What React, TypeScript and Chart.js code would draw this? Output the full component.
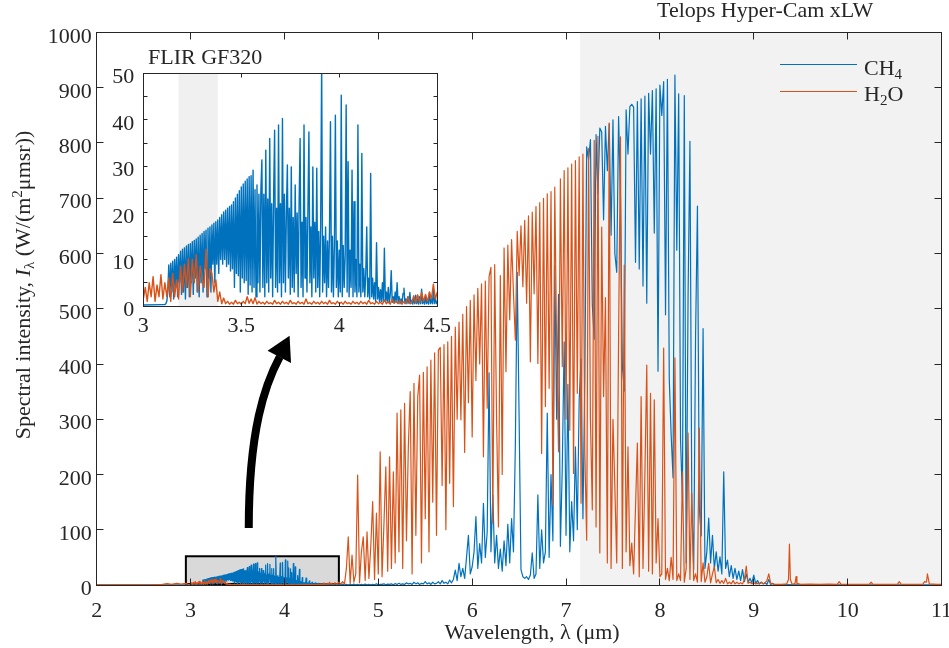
import React, { useEffect, useRef } from "react";
import { Chart, registerables } from "chart.js";
Chart.register(...registerables);

const CH4_COLOR = "#0072BD";
const H2O_COLOR = "#D95319";
const AXIS_COLOR = "#262626";
const SERIF = '"Liberation Serif", "Times New Roman", serif';
const FS = 22;

// ---------- axis ticks ----------
const mainXTicks = [2, 3, 4, 5, 6, 7, 8, 9, 10, 11];
const mainYTicks = [0, 100, 200, 300, 400, 500, 600, 700, 800, 900, 1000];
const insetXTicks = [3, 3.5, 4, 4.5];
const insetYTicks = [0, 5, 10, 15, 20, 25, 30, 35, 40, 45, 50];
const insetYLabels = [0, 10, 20, 30, 40, 50];

// ---------- annotations (data coordinates) ----------
const hyperCamBand = [7.15, 11];
const flirBand = [3.18, 3.38];
const zoomBox = [2.95, 4.58, 0, 52];

// ---------- H2O spectrum ----------
const h2oPreX = [2.0, 2.6, 2.7, 2.75, 2.8, 2.85, 2.9, 2.95, 2.98];
const h2oPreY = [0.3, 0.3, 1, 2.5, 1, 3, 1.5, 3, 1];
const h2oFineStart = 3.0;
const h2oFineStep = 0.01;
const h2oFineVals = [
  1.5, 4, 1, 5, 2, 6.3, 1, 4.5, 2, 6.7,
  1.5, 5, 2, 6, 1, 7, 2, 5.6, 1.5, 8.6,
  3, 9, 4, 10.2, 2, 10, 5, 11, 3, 8.6,
  6, 4, 12.2, 2, 8, 7, 3, 5.6, 1, 3,
  0.5, 1.7, 0.5, 1, 0.4, 0.8, 0.4, 1.2, 0.5, 0.8,
  0.4, 1, 0.5, 2, 0.6, 1.5, 0.5, 1.8, 0.4, 1,
  0.5, 0.8, 0.4, 1, 0.5, 0.7, 0.4, 1.2, 0.5, 0.8,
  0.4, 1, 0.5, 0.8, 0.4, 1.2, 0.5, 0.7, 0.4, 1,
  0.5, 0.8, 0.4, 1.5, 0.5, 0.7, 0.4, 1, 0.5, 0.8,
  0.4, 1, 0.5, 0.8, 0.4, 1.2, 0.5, 0.7, 0.4, 1,
  0.5, 0.8, 0.4, 1, 0.5, 0.7, 0.4, 1, 0.5, 0.8,
  0.4, 1, 0.5, 0.8, 0.4, 1.2, 0.5, 0.7, 0.4, 1,
  0.5, 0.8, 0.4, 1.3, 0.5, 0.9, 0.4, 1.5, 0.6, 1,
  0.5, 1.2, 0.4, 1, 0.6, 2, 0.5, 0.8, 2.2, 0.7,
  2.4, 0.8, 2.9, 1, 2.5, 1, 3, 1.5, 4.7, 1.5,
  3,
];
const coarseStart = 4.52;
const coarseStep = 0.02;
const h2oCoarseVals = [
  1, 4, 1, 5, 2, 6, 2, 30, 87, 3,
  54, 5, 20, 199, 4, 60, 87, 8, 96, 12,
  70, 151, 10, 130, 20, 241, 15, 110, 214, 25,
  232, 30, 205, 40, 311, 60, 317, 30, 329, 80,
  250, 350, 20, 365, 90, 340, 380, 40, 385, 120,
  395, 60, 407, 150, 420, 90, 425, 430, 180, 435,
  100, 440, 184, 450, 142, 467, 300, 476, 299, 490,
  240, 504, 330, 515, 268, 525, 370, 537, 400, 545,
  232, 550, 320, 558, 575, 112, 580, 300, 105, 560,
  200, 610, 386, 615, 480, 625, 528, 443, 640, 560,
  650, 540, 660, 510, 668, 404, 675, 527, 685, 401,
  692, 238, 700, 323, 708, 356, 712, 145, 720, 431,
  241, 735, 395, 750, 300, 755, 280, 762, 202, 768,
  347, 775, 148, 780, 240, 81, 790, 300, 136, 805,
  105, 812, 58, 648, 341, 520, 40, 836, 30, 300,
  178, 40, 450, 811, 30, 579, 60, 250, 35, 76,
  20, 140, 257, 15, 341, 30, 200, 398, 25, 347,
  20, 335, 40, 120, 15, 20, 429, 10, 30, 8,
  50, 10, 411, 8, 20, 8, 205, 5, 30, 275,
  10, 166, 8, 20, 5, 284, 6, 40, 5, 15,
  39, 4, 20, 33, 4, 10, 3, 8, 3, 12,
  2, 5, 2, 8, 2, 5, 2, 4, 2, 10,
  34, 3, 5, 2, 4, 2, 3, 2, 5, 2,
  4, 8, 20, 3, 2, 1,
];
const h2oTailX = [9.24, 9.3, 9.35, 9.37, 9.38, 9.39, 9.41, 9.44, 9.45, 9.46, 9.5, 9.6, 9.7, 9.8, 9.89, 9.91, 9.93, 10.1, 10.23, 10.25, 10.27, 10.4, 10.53, 10.55, 10.57, 10.7, 10.8, 10.82, 10.84, 10.85, 10.87, 10.95, 11.0];
const h2oTailY = [1, 1, 2, 10, 74, 10, 1, 3, 15, 3, 1, 1.5, 1, 1.5, 1, 6, 1, 1, 1, 5, 1, 1, 1, 6, 1, 1, 1, 6, 5, 20, 2, 1, 1];

// ---------- CH4 spectrum ----------
const ch4PreX = [2.0, 3.0, 3.095];
const ch4PreY = [0.2, 0.2, 0.3];
const ch4FineStart = 3.1;
const ch4FineStep = 0.005;
const ch4FineVals = [
  0.3, 0.3, 0.3, 0.5, 1, 3, 8.8, 2, 9.2, 3, 9.6, 1.5, 10, 4, 10.5, 2, 11, 5, 11.8, 2.5,
  12.2, 3, 12.5, 1.5, 12.9, 4, 13.2, 2, 13.4, 5, 13.8, 2.5, 14.1, 6, 14.4, 3, 14.8, 2, 15.2, 5,
  15.6, 3, 16, 8, 16.3, 2, 16.7, 6, 17, 3, 17.4, 9, 17.8, 5, 18.1, 9, 18.5, 7, 19, 10,
  19.6, 9, 20.2, 10, 20.6, 8.5, 21, 9, 21.4, 7.5, 21.7, 8, 22.4, 4, 23.2, 7, 24, 6.5, 24.8, 3,
  25.6, 6, 26.2, 5, 26.8, 5.5, 27.3, 2.5, 27.8, 4.5, 28, 3, 29.2, 4, 25, 2, 26, 5, 24, 3,
  25, 31.4, 4, 24, 2, 33.5, 5, 23, 3, 36, 6, 22, 2, 24, 37.8, 4, 21, 3, 38.9, 5,
  22, 2, 40.3, 5, 24, 3, 20, 30.3, 6, 21, 2.5, 29.9, 4, 19, 3, 26, 7, 20, 2, 22,
  36, 4, 18, 2, 38.9, 6, 19, 3, 21, 37.4, 5, 17, 2, 29.9, 6, 18, 3, 29.6, 4, 16,
  2, 18, 52, 3, 15, 5, 17, 2, 14, 4, 16, 39.6, 3, 15, 2, 13, 41, 4, 14, 2,
  12, 3, 45.3, 2, 13, 4, 11, 43.2, 3, 31, 2, 12, 4, 29.2, 2, 22.4, 3, 10, 2, 38.9,
  3, 9, 2, 32.8, 3, 8, 2, 7, 17, 2, 6, 1.5, 28.5, 2, 6, 1.5, 5, 1, 13.6, 1.5,
  4, 1, 3.5, 1, 5, 0.8, 12.4, 1, 3, 0.8, 4, 0.6, 2.5, 7.6, 0.8, 2, 0.6, 3, 0.8, 5,
  0.6, 2, 0.5, 1.5, 0.5, 2.7, 3.8, 0.5, 1.5, 0.5, 2, 0.6, 2.9, 0.5, 1.2, 0.4, 1.8, 0.5, 2.3, 0.5,
  1.5, 0.4, 2, 0.5, 3.6, 0.5, 1.5, 0.4, 2.2, 0.5, 1.3, 0.4, 2.9, 0.5, 1.5, 0.5, 3.4, 0.5, 1.8, 0.5,
  1,
];
const ch4CoarseVals = [
  0.5, 1, 0.5, 1, 0.5, 1.5, 0.5, 1, 0.5, 1,
  0.5, 1.5, 0.5, 1, 0.5, 1, 0.5, 1.5, 0.5, 1,
  0.5, 1, 0.5, 2, 0.5, 1, 1, 2, 0.5, 1.5,
  1, 2, 0.5, 2.5, 1, 3, 1, 2, 1, 4,
  2, 3, 1, 5, 2, 4, 1, 3, 2, 6,
  2, 4, 1, 5, 2, 3, 6, 2, 8, 3,
  5, 2, 9, 4, 10, 27, 8, 39, 15, 30,
  12, 50, 90, 20, 33, 60, 124, 30, 75, 40,
  148, 50, 96, 384, 60, 163, 40, 90, 30, 65,
  25, 80, 35, 110, 40, 120, 60, 252, 566, 304,
  28, 15, 12, 15, 10, 18, 58, 12, 20, 163,
  30, 100, 40, 60, 311, 50, 200, 80, 578, 300,
  526, 70, 212, 440, 90, 363, 60, 151, 80, 250,
  100, 335, 409, 120, 367, 793, 770, 806, 507, 445,
  815, 708, 827, 820, 661, 830, 750, 835, 633, 842,
  600, 566, 848, 700, 397, 351, 860, 780, 866, 870,
  865, 584, 875, 572, 880, 541, 885, 510, 890, 780,
  895, 637, 898, 387, 905, 850, 911, 489, 915, 372,
  271, 194, 923, 606, 889, 261, 157, 886, 40, 520,
  803, 145, 28, 452, 686, 140, 89, 464, 30, 60,
  121, 40, 90, 30, 60, 25, 51, 20, 205, 30,
  45, 15, 35, 12, 30, 10, 25, 8, 28, 6,
  20, 5, 12, 4, 18, 3, 8, 2, 5, 2,
  4, 1, 10, 1, 3, 0.5,
];
const ch4TailX = [9.3, 9.5, 10, 11];
const ch4TailY = [0.5, 0.3, 0.3, 0.3];

// arrow annotation in data coordinates of the main axes
const arrowTail = [3.62, 103];
const arrowC1 = [3.62, 281];
const arrowC2 = [3.795, 364];
const arrowEnd = [3.95, 413];
const arrowTip = [4.055, 451];
const arrowBarbL = [3.82, 424];
const arrowBarbR = [4.07, 402];

type Pt = { x: number; y: number };
function gridPts(start: number, step: number, vals: number[]): Pt[] {
  return vals.map((v, i) => ({ x: +(start + i * step).toFixed(4), y: v }));
}
function pairPts(xs: number[], ys: number[]): Pt[] {
  return xs.map((x, i) => ({ x, y: ys[i] }));
}

const h2oPoints: Pt[] = [
  ...pairPts(h2oPreX, h2oPreY),
  ...gridPts(h2oFineStart, h2oFineStep, h2oFineVals),
  ...gridPts(coarseStart, coarseStep, h2oCoarseVals),
  ...pairPts(h2oTailX, h2oTailY),
];
const ch4Points: Pt[] = [
  ...pairPts(ch4PreX, ch4PreY),
  ...gridPts(ch4FineStart, ch4FineStep, ch4FineVals),
  ...gridPts(coarseStart, coarseStep, ch4CoarseVals),
  ...pairPts(ch4TailX, ch4TailY),
];

type Seg = { t: string; k?: "i" | "sub" | "sup" };
function segFont(s: Seg, size: number) {
  const fs = s.k === "sub" || s.k === "sup" ? Math.round(size * 0.7) : size;
  return `${s.k === "i" ? "italic " : ""}${fs}px ${SERIF}`;
}
function richWidth(ctx: CanvasRenderingContext2D, segs: Seg[], size: number) {
  let w = 0;
  for (const s of segs) {
    ctx.font = segFont(s, size);
    w += ctx.measureText(s.t).width;
  }
  return w;
}
function drawRich(ctx: CanvasRenderingContext2D, segs: Seg[], x: number, y: number, size: number) {
  let cx = x;
  for (const s of segs) {
    ctx.font = segFont(s, size);
    const dy = s.k === "sub" ? size * 0.2 : s.k === "sup" ? -size * 0.38 : 0;
    ctx.fillText(s.t, cx, y + dy);
    cx += ctx.measureText(s.t).width;
  }
}

const snap = (v: number) => Math.floor(v) + 0.5;

function drawFrame(
  chart: any,
  cfg: {
    xTicks: number[];
    yTicks: number[];
    xLabels: number[];
    yLabels: number[];
    tickLen: number;
    xLabelDy: number;
    yLabelGap: number;
  }
) {
  const { ctx, chartArea: a } = chart;
  const xs = chart.scales.x;
  const ys = chart.scales.y;
  const L = snap(a.left), R = snap(a.right), T = snap(a.top), B = snap(a.bottom);
  ctx.save();
  ctx.strokeStyle = AXIS_COLOR;
  ctx.lineWidth = 1;
  ctx.beginPath();
  for (const v of cfg.xTicks) {
    const px = snap(xs.getPixelForValue(v));
    ctx.moveTo(px, B);
    ctx.lineTo(px, B - cfg.tickLen);
    ctx.moveTo(px, T);
    ctx.lineTo(px, T + cfg.tickLen);
  }
  for (const v of cfg.yTicks) {
    const py = snap(ys.getPixelForValue(v));
    ctx.moveTo(L, py);
    ctx.lineTo(L + cfg.tickLen, py);
    ctx.moveTo(R, py);
    ctx.lineTo(R - cfg.tickLen, py);
  }
  ctx.stroke();
  ctx.strokeRect(L, T, R - L, B - T);
  ctx.fillStyle = AXIS_COLOR;
  ctx.font = `${FS}px ${SERIF}`;
  ctx.textBaseline = "alphabetic";
  ctx.textAlign = "center";
  for (const v of cfg.xLabels) ctx.fillText(String(v), xs.getPixelForValue(v), a.bottom + cfg.xLabelDy);
  ctx.textAlign = "right";
  for (const v of cfg.yLabels) ctx.fillText(String(v), a.left - cfg.yLabelGap, ys.getPixelForValue(v) + 10);
  ctx.restore();
}

const mainPlugin = {
  id: "mainDecor",
  beforeDatasetsDraw(chart: any) {
    const { ctx, chartArea: a } = chart;
    const xs = chart.scales.x;
    const ys = chart.scales.y;
    ctx.save();
    const b0 = xs.getPixelForValue(hyperCamBand[0]);
    const b1 = xs.getPixelForValue(hyperCamBand[1]);
    ctx.fillStyle = "#f2f2f2";
    ctx.fillRect(b0, a.top, b1 - b0, a.bottom - a.top);
    const rx0 = xs.getPixelForValue(zoomBox[0]);
    const rx1 = xs.getPixelForValue(zoomBox[1]);
    const ry0 = ys.getPixelForValue(zoomBox[2]);
    const ry1 = ys.getPixelForValue(zoomBox[3]);
    ctx.fillStyle = "#d9d9d9";
    ctx.fillRect(rx0, ry1, rx1 - rx0, ry0 - ry1);
    ctx.strokeStyle = "#000";
    ctx.lineWidth = 2;
    ctx.strokeRect(rx0, ry1, rx1 - rx0, ry0 - ry1 - 1);
    ctx.restore();
  },
  afterDraw(chart: any) {
    const { ctx } = chart;
    const xs = chart.scales.x;
    const ys = chart.scales.y;
    drawFrame(chart, {
      xTicks: mainXTicks,
      yTicks: mainYTicks,
      xLabels: mainXTicks,
      yLabels: mainYTicks,
      tickLen: 7,
      xLabelDy: 32,
      yLabelGap: 5,
    });
    ctx.save();
    ctx.fillStyle = AXIS_COLOR;
    ctx.textBaseline = "alphabetic";
    ctx.textAlign = "left";
    // top annotation
    ctx.font = `${FS}px ${SERIF}`;
    ctx.fillText("Telops Hyper-Cam xLW", 657, 17);
    // x title
    const xt: Seg[] = [{ t: "Wavelength, λ (μm)" }];
    const xw = richWidth(ctx, xt, FS);
    drawRich(ctx, xt, 532 - xw / 2, 639, FS);
    // y title
    const yt: Seg[] = [
      { t: "Spectral intensity, " },
      { t: "I", k: "i" },
      { t: "λ", k: "sub" },
      { t: " (W/(m" },
      { t: "2", k: "sup" },
      { t: "μmsr))" },
    ];
    const yw = richWidth(ctx, yt, FS);
    ctx.save();
    ctx.translate(30, 285);
    ctx.rotate(-Math.PI / 2);
    drawRich(ctx, yt, -yw / 2, 0, FS);
    ctx.restore();
    // legend
    ctx.lineWidth = 1;
    ctx.strokeStyle = CH4_COLOR;
    ctx.beginPath();
    ctx.moveTo(780, 64.5);
    ctx.lineTo(857, 64.5);
    ctx.stroke();
    ctx.strokeStyle = H2O_COLOR;
    ctx.beginPath();
    ctx.moveTo(780, 91.5);
    ctx.lineTo(857, 91.5);
    ctx.stroke();
    drawRich(ctx, [{ t: "CH" }, { t: "4", k: "sub" }], 864, 75, FS);
    drawRich(ctx, [{ t: "H" }, { t: "2", k: "sub" }, { t: "O" }], 864, 100.5, FS);
    // arrow
    const P = (p: number[]) => [xs.getPixelForValue(p[0]), ys.getPixelForValue(p[1])];
    const t0 = P(arrowTail), c1 = P(arrowC1), c2 = P(arrowC2), e = P(arrowEnd);
    const tip = P(arrowTip), bl = P(arrowBarbL), br = P(arrowBarbR);
    ctx.strokeStyle = "#000";
    ctx.fillStyle = "#000";
    ctx.lineWidth = 8;
    ctx.lineCap = "butt";
    ctx.beginPath();
    ctx.moveTo(t0[0], t0[1]);
    ctx.bezierCurveTo(c1[0], c1[1], c2[0], c2[1], e[0], e[1]);
    ctx.stroke();
    ctx.beginPath();
    ctx.moveTo(tip[0], tip[1]);
    ctx.lineTo(bl[0], bl[1]);
    ctx.lineTo(br[0], br[1]);
    ctx.closePath();
    ctx.fill();
    ctx.restore();
  },
};

const insetPlugin = {
  id: "insetDecor",
  beforeDatasetsDraw(chart: any) {
    const { ctx, chartArea: a } = chart;
    const xs = chart.scales.x;
    ctx.save();
    ctx.fillStyle = "#ffffff";
    ctx.fillRect(a.left, a.top, a.right - a.left, a.bottom - a.top);
    const b0 = xs.getPixelForValue(flirBand[0]);
    const b1 = xs.getPixelForValue(flirBand[1]);
    ctx.fillStyle = "#f0f0f0";
    ctx.fillRect(b0, a.top, b1 - b0, a.bottom - a.top);
    ctx.restore();
  },
  afterDraw(chart: any) {
    const { ctx } = chart;
    drawFrame(chart, {
      xTicks: insetXTicks,
      yTicks: insetYTicks,
      xLabels: insetXTicks,
      yLabels: insetYLabels,
      tickLen: 4,
      xLabelDy: 26,
      yLabelGap: 9,
    });
    ctx.save();
    ctx.fillStyle = AXIS_COLOR;
    ctx.font = `${FS}px ${SERIF}`;
    ctx.textAlign = "left";
    ctx.textBaseline = "alphabetic";
    ctx.fillText("FLIR GF320", 148, 64);
    ctx.restore();
  },
};

function datasets(width: number) {
  return [
    {
      label: "H2O",
      data: h2oPoints,
      borderColor: H2O_COLOR,
      borderWidth: width,
      pointRadius: 0,
      tension: 0,
      fill: false,
      borderJoinStyle: "round" as const,
    },
    {
      label: "CH4",
      data: ch4Points,
      borderColor: CH4_COLOR,
      borderWidth: width,
      pointRadius: 0,
      tension: 0,
      fill: false,
      borderJoinStyle: "round" as const,
    },
  ];
}

function makeConfig(
  xr: [number, number],
  yr: [number, number],
  xStep: number,
  yStep: number,
  area: { left: number; top: number; right: number; bottom: number },
  plugin: any,
  lineWidth: number
): any {
  return {
    type: "line",
    data: { datasets: datasets(lineWidth) },
    options: {
      responsive: false,
      animation: false,
      devicePixelRatio: 1,
      events: [],
      layout: { padding: { left: 0, top: area.top, right: 949 - area.right, bottom: 0 } },
      scales: {
        x: {
          type: "linear",
          min: xr[0],
          max: xr[1],
          ticks: { display: false, stepSize: xStep },
          grid: { display: false },
          border: { display: false },
          afterFit: (s: any) => {
            s.height = 648 - area.bottom;
          },
        },
        y: {
          type: "linear",
          min: yr[0],
          max: yr[1],
          ticks: { display: false, stepSize: yStep },
          grid: { display: false },
          border: { display: false },
          afterFit: (s: any) => {
            s.width = area.left;
          },
        },
      },
      plugins: { legend: { display: false }, tooltip: { enabled: false } },
    },
    plugins: [plugin],
  };
}

export default function App() {
  const mainRef = useRef<HTMLCanvasElement>(null);
  const insetRef = useRef<HTMLCanvasElement>(null);
  useEffect(() => {
    const main = new Chart(
      mainRef.current as HTMLCanvasElement,
      makeConfig([2, 11], [0, 1000], 1, 100, { left: 96.7, top: 32.5, right: 941.5, bottom: 585 }, mainPlugin, 1.2)
    );
    const inset = new Chart(
      insetRef.current as HTMLCanvasElement,
      makeConfig([3, 4.5], [0, 50], 0.5, 5, { left: 143.3, top: 73.3, right: 437.3, bottom: 306 }, insetPlugin, 1.4)
    );
    return () => {
      main.destroy();
      inset.destroy();
    };
  }, []);
  return (
    <div style={{ position: "absolute", left: 0, top: 0, width: 949, height: 648, background: "#fff" }}>
      <canvas ref={mainRef} width={949} height={648} style={{ position: "absolute", left: 0, top: 0 }} />
      <canvas ref={insetRef} width={949} height={648} style={{ position: "absolute", left: 0, top: 0 }} />
    </div>
  );
}
